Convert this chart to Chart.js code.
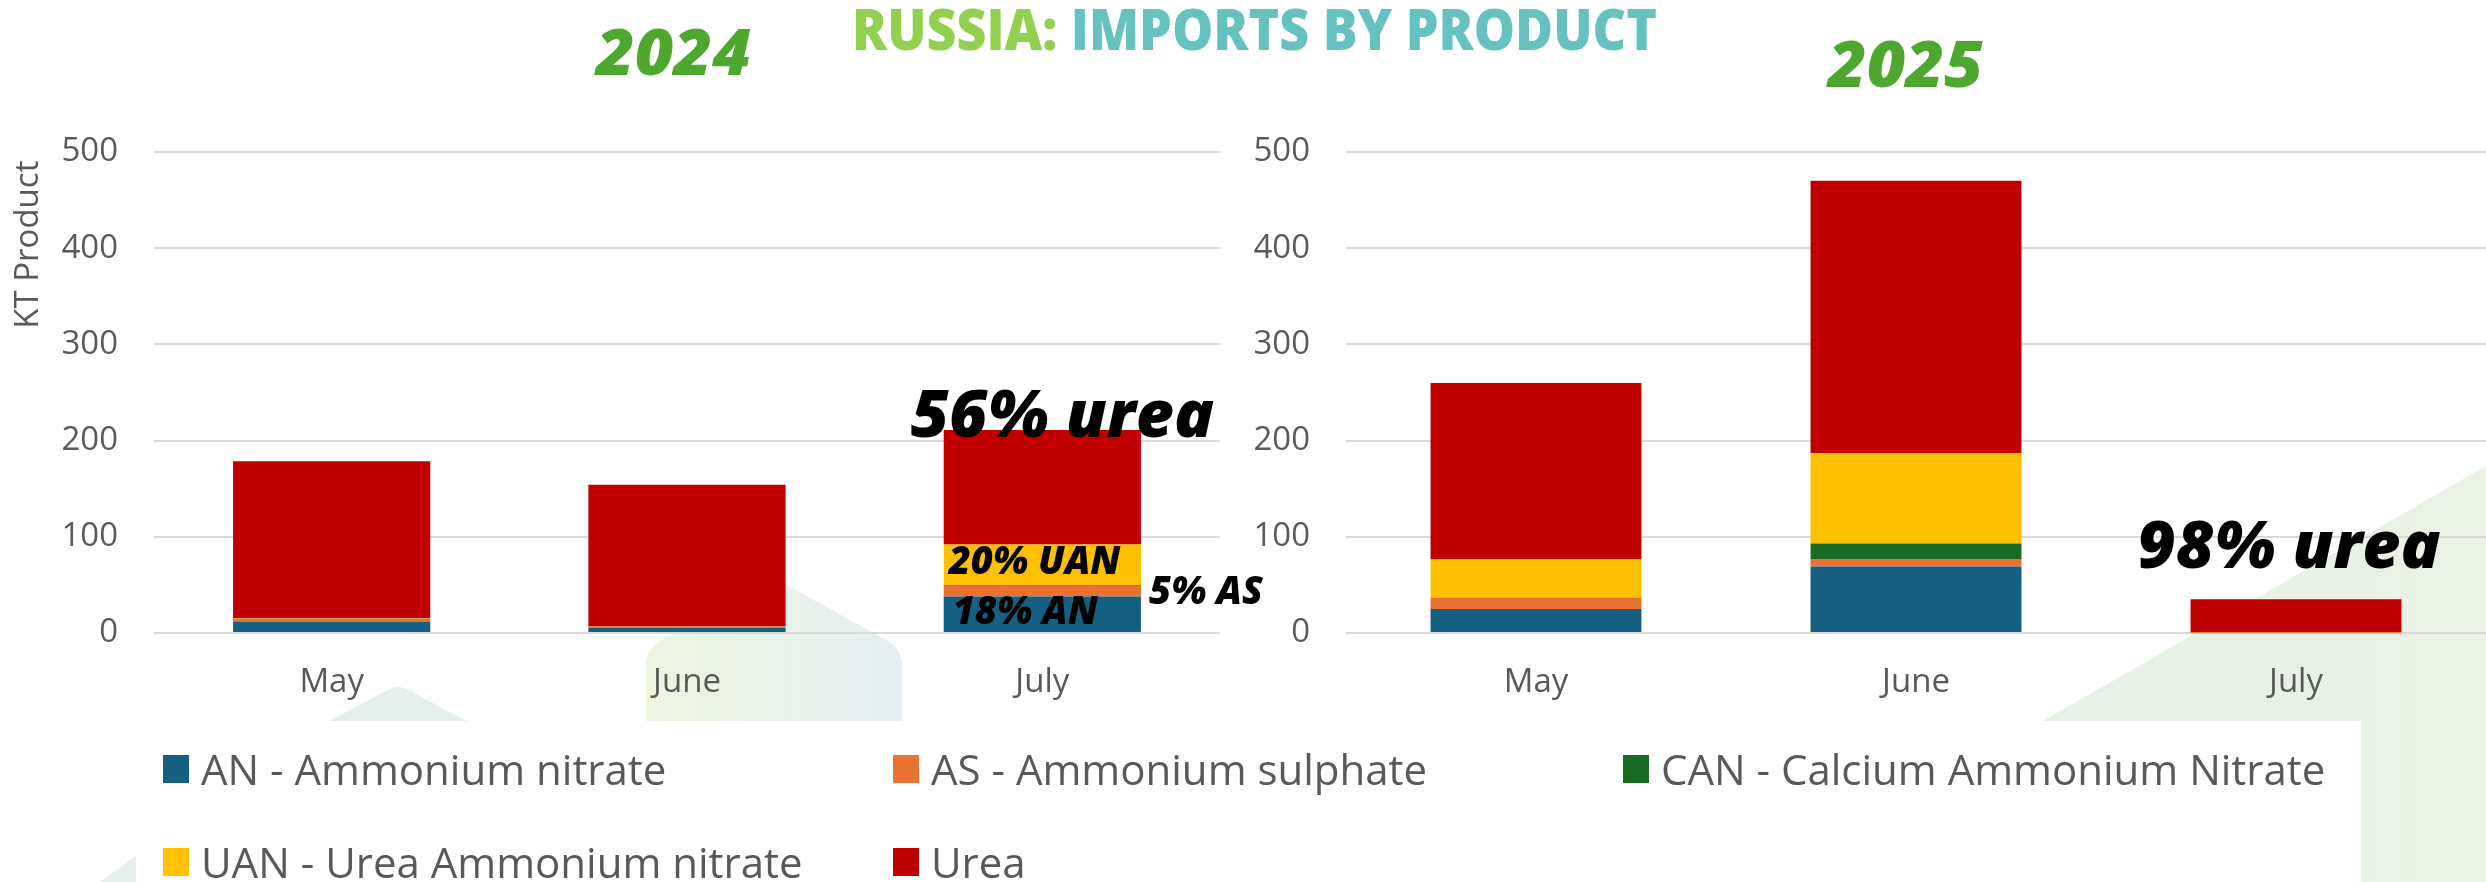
<!DOCTYPE html>
<html>
<head>
<meta charset="utf-8">
<script src="https://cdn.jsdelivr.net/npm/chart.js@4.4.1/dist/chart.umd.min.js"></script>
<style>
html,body{margin:0;padding:0;background:#fff;}
#stage{position:relative;width:2486px;height:882px;overflow:hidden;background:#fff;font-family:'Open Sans','Liberation Sans',sans-serif;}
#bg{position:absolute;left:0;top:0;}
canvas{position:absolute;top:0;}
#legend{position:absolute;left:0;top:0;width:2486px;height:882px;pointer-events:none;}
.li{position:absolute;display:flex;align-items:center;height:46px;margin-top:-23px;white-space:nowrap;}
.li .sw{width:26px;height:28px;margin-right:12px;flex:none;}
.li .tx{font-family:'Open Sans','Liberation Sans',sans-serif;font-size:42px;color:#595959;line-height:46px;}
</style>
</head>
<body>
<div id="stage">
  <svg id="bg" width="2486" height="882" xmlns="http://www.w3.org/2000/svg">
    <defs>
      <linearGradient id="hg" x1="0" x2="1" y1="0" y2="0">
        <stop offset="0" stop-color="#EEF5E0"/>
        <stop offset="1" stop-color="#E4EEF1"/>
      </linearGradient>
      <linearGradient id="tg" x1="0" x2="1" y1="0" y2="0">
        <stop offset="0" stop-color="#E6F0EA"/>
        <stop offset="1" stop-color="#E9F2E4"/>
      </linearGradient>
    </defs>
    <polygon points="2486,466 2486,882 1763,882" fill="url(#tg)"/>
    <path d="M646,721 L646,665 Q646,650 660,641 L774,578 L888,641 Q902,650 902,665 L902,721 Z" fill="url(#hg)"/>
    <path d="M329,721 L388,690 Q398,684 408,690 L467,721 Z" fill="#E4EFEB"/>
    <path d="M100,882 L136,856 L150,882 Z" fill="#E4EFEB"/>
    <rect x="136" y="721" width="2225" height="161" fill="#ffffff"/>
    <text x="852" y="50" font-family="'Open Sans','Liberation Sans',sans-serif" font-weight="800" font-size="57" textLength="805" lengthAdjust="spacingAndGlyphs"><tspan fill="#92D050">RUSSIA:</tspan><tspan fill="#66C2BF"> IMPORTS BY PRODUCT</tspan></text>
    <text x="596" y="75" font-family="'Open Sans','Liberation Sans',sans-serif" font-weight="800" font-style="italic" font-size="64" fill="#4EA72E" textLength="155" lengthAdjust="spacingAndGlyphs">2024</text>
    <text x="1828" y="87" font-family="'Open Sans','Liberation Sans',sans-serif" font-weight="800" font-style="italic" font-size="64" fill="#4EA72E" textLength="155" lengthAdjust="spacingAndGlyphs">2025</text>
  </svg>
  <canvas id="c1" width="1300" height="720" style="left:0px"></canvas>
  <canvas id="c2" width="1256" height="720" style="left:1230px"></canvas>
  <div id="legend"></div>
</div>
<script>
// ---- data ----
const months = ['May', 'June', 'July'];
const seriesNames = ['AN - Ammonium nitrate', 'AS - Ammonium sulphate', 'CAN - Calcium Ammonium Nitrate', 'UAN - Urea Ammonium nitrate', 'Urea'];
const seriesColors = ['#156082', '#E97132', '#196B24', '#FFC000', '#C00000'];
const yTicks = [0, 100, 200, 300, 400, 500];

const an2024   = [12, 5.2, 38];
const as2024   = [2.8, 1.7, 11];
const can2024  = [0.4, 0.3, 1];
const uan2024  = [0.3, 0, 42];
const urea2024 = [163, 147, 119];

const an2025   = [25, 69, 0];
const as2025   = [12, 8, 0.3];
const can2025  = [0, 16, 0];
const uan2025  = [40, 94, 0.4];
const urea2025 = [183, 283, 34.5];

const notes2024 = [
  {text: '56% urea', index: 2, value: 204, anchor: 'center', dx: 20, size: 66},
  {text: '20% UAN', index: 2, value: 61.3, anchor: 'barLeft', dx: 5, size: 38},
  {text: '18% AN', index: 2, value: 9.4, anchor: 'barLeft', dx: 9, size: 38},
  {text: '5% AS', index: 2, value: 30, anchor: 'barRight', dx: 8, size: 38}
];
const notes2025 = [
  {text: '98% urea', index: 2, value: 67.5, anchor: 'center', dx: -7, size: 66}
];

// ---- helpers ----
const FONT = "'Open Sans','Liberation Sans',sans-serif";
function makeDatasets(arrs) {
  return arrs.map((d, i) => ({
    label: seriesNames[i],
    data: d,
    backgroundColor: seriesColors[i],
    borderWidth: 0,
    barPercentage: 0.555,
    categoryPercentage: 1.0,
    stack: 's'
  }));
}

const notesPlugin = {
  id: 'notes',
  afterDatasetsDraw(chart, args, opts) {
    const ctx = chart.ctx;
    const yScale = chart.scales.y;
    const meta = chart.getDatasetMeta(0);
    (opts.items || []).forEach(n => {
      const bar = meta.data[n.index];
      const p = bar.getProps(['x', 'width'], true);
      let x, align;
      if (n.anchor === 'center') { x = p.x + n.dx; align = 'center'; }
      else if (n.anchor === 'barLeft') { x = p.x - p.width / 2 + n.dx; align = 'left'; }
      else { x = p.x + p.width / 2 + n.dx; align = 'left'; }
      const y = yScale.getPixelForValue(n.value);
      ctx.save();
      ctx.font = 'italic 800 ' + n.size + 'px ' + FONT;
      ctx.fillStyle = '#000';
      ctx.textAlign = align;
      ctx.textBaseline = 'alphabetic';
      ctx.fillText(n.text, x, y);
      ctx.restore();
    });
  }
};

function makeOptions(yWidth, padRight, showTitle, notes) {
  return {
    responsive: false,
    animation: false,
    events: [],
    layout: {padding: {top: 152, right: padRight, left: 0, bottom: 0}},
    plugins: {legend: {display: false}, tooltip: {enabled: false}, notes: {items: notes}},
    scales: {
      x: {
        stacked: true,
        grid: {display: false, drawTicks: false},
        border: {display: false},
        ticks: {color: '#595959', font: {family: FONT, size: 33}, padding: 30},
        afterFit(s) { s.height = 87; }
      },
      y: {
        stacked: true,
        min: yTicks[0],
        max: yTicks[yTicks.length - 1],
        afterBuildTicks(s) { s.ticks = yTicks.map(v => ({value: v})); },
        grid: {color: '#D9D9D9', lineWidth: 2, drawTicks: false},
        border: {display: false},
        ticks: {color: '#595959', font: {family: FONT, size: 33}, padding: 36},
        title: {
          display: showTitle,
          text: 'KT Product ',
          align: 'end',
          color: '#595959',
          font: {family: FONT, size: 33},
          padding: {top: 9, bottom: 0}
        },
        afterFit(s) { s.width = yWidth; }
      }
    }
  };
}

new Chart(document.getElementById('c1'), {
  type: 'bar',
  data: {labels: months, datasets: makeDatasets([an2024, as2024, can2024, uan2024, urea2024])},
  options: makeOptions(154, 80, true, notes2024),
  plugins: [notesPlugin]
});

new Chart(document.getElementById('c2'), {
  type: 'bar',
  data: {labels: months, datasets: makeDatasets([an2025, as2025, can2025, uan2025, urea2025])},
  options: makeOptions(116, 0, false, notes2025),
  plugins: [notesPlugin]
});

// ---- legend ----
const legendCols = [163, 893, 1623];
const legendRows = [769, 862];
const lg = document.getElementById('legend');
seriesNames.forEach((name, i) => {
  const d = document.createElement('div');
  d.className = 'li';
  d.style.left = legendCols[i % 3] + 'px';
  d.style.top = legendRows[Math.floor(i / 3)] + 'px';
  const sw = document.createElement('span');
  sw.className = 'sw';
  sw.style.background = seriesColors[i];
  const tx = document.createElement('span');
  tx.className = 'tx';
  tx.textContent = name;
  d.appendChild(sw); d.appendChild(tx);
  lg.appendChild(d);
});
</script>
</body>
</html>
